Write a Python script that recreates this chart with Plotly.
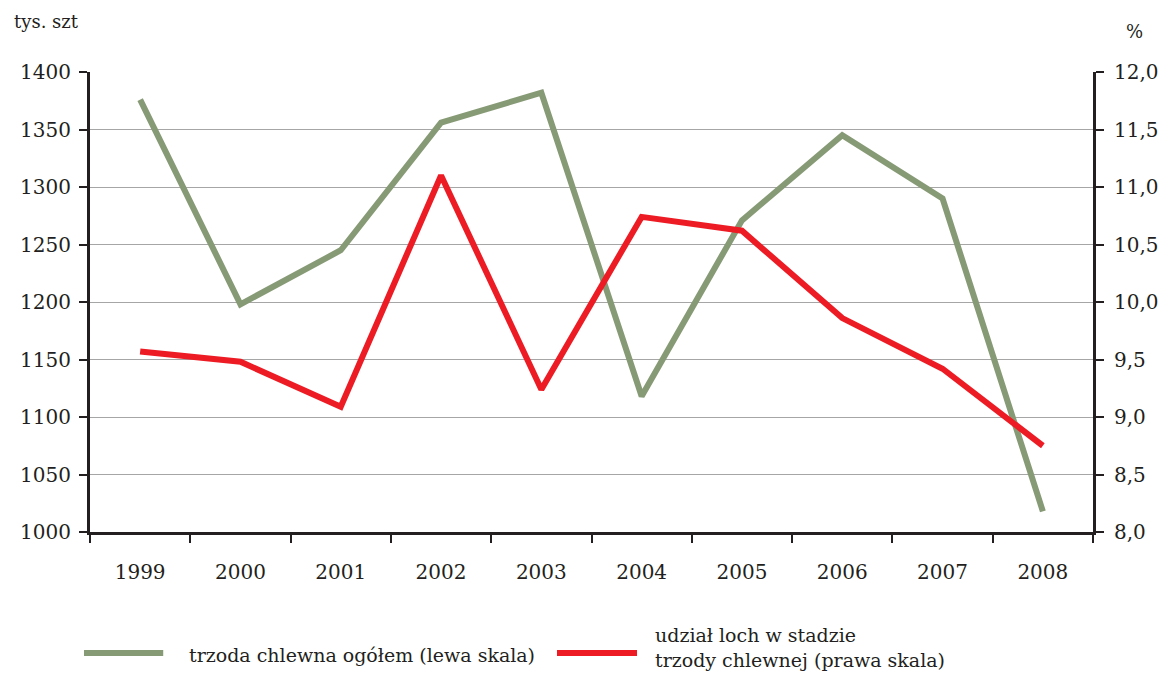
import plotly.graph_objects as go

years = ["1999", "2000", "2001", "2002", "2003", "2004", "2005", "2006", "2007", "2008"]
trzoda = [1376, 1198, 1245, 1356, 1382, 1118, 1271, 1345, 1290, 1018]
udzial = [9.57, 9.48, 9.09, 11.10, 9.24, 10.74, 10.62, 9.86, 9.42, 8.75]

name_green = "trzoda chlewna ogółem (lewa skala)"
name_red = "udział loch w stadzie<br>trzody chlewnej (prawa skala)"
left_ticks = [1000, 1050, 1100, 1150, 1200, 1250, 1300, 1350, 1400]
right_ticks = [8.0, 8.5, 9.0, 9.5, 10.0, 10.5, 11.0, 11.5, 12.0]
right_labels = ["8,0", "8,5", "9,0", "9,5", "10,0", "10,5", "11,0", "11,5", "12,0"]

GREEN = "#879a76"
RED = "#ed1c24"
INK = "#231f20"
FONT = "DejaVu Serif"

fig = go.Figure()
fig.add_trace(go.Scatter(x=years, y=trzoda, mode="lines", name=name_green,
                         line=dict(color=GREEN, width=6), yaxis="y", showlegend=False))
fig.add_trace(go.Scatter(x=years, y=udzial, mode="lines", name=name_red,
                         line=dict(color=RED, width=6), yaxis="y2", showlegend=False))

axis_common = dict(showline=True, linecolor=INK, linewidth=3, ticks="outside",
                   ticklen=8, tickwidth=1.5, tickcolor=INK, automargin=False,
                   tickfont=dict(family=FONT, size=20, color=INK), zeroline=False)
inner = dict(showline=False, ticks="inside", ticklen=8, tickwidth=1.5, tickcolor=INK,
             showticklabels=False, showgrid=False, zeroline=False, automargin=False)

n = len(years)
bounds = [i - 0.5 for i in range(n + 1)]

fig.update_layout(
    width=1164, height=673,
    margin=dict(l=90, r=71, t=72, b=141, autoexpand=False),
    paper_bgcolor="white", plot_bgcolor="white",
    font=dict(family=FONT, color=INK),
    xaxis=dict(type="category", range=[-0.5, n - 0.5], tickson="boundaries",
               showgrid=False, ticklabelstandoff=20, **axis_common),
    yaxis=dict(range=[1000, 1400], tickvals=left_ticks, showgrid=True,
               gridcolor="#a6a6a6", gridwidth=1.2, ticklabelstandoff=4, **axis_common),
    yaxis2=dict(range=[8, 12], tickvals=right_ticks, ticktext=right_labels,
                overlaying="y", side="right", showgrid=False, ticklabelstandoff=6,
                **axis_common),
    xaxis2=dict(range=[-0.5, n - 0.5], tickvals=bounds, overlaying="x", side="bottom",
                anchor="y", **inner),
    yaxis3=dict(range=[1000, 1400], tickvals=left_ticks, overlaying="y", side="left",
                anchor="x", **inner),
    yaxis4=dict(range=[8, 12], tickvals=right_ticks, overlaying="y", side="right",
                anchor="x", **inner),
)

# legend drawn manually
fig.add_shape(type="line", xref="paper", yref="paper", x0=-0.006, x1=0.073,
              y0=-0.263, y1=-0.263, line=dict(color=GREEN, width=6))
fig.add_shape(type="line", xref="paper", yref="paper", x0=0.4656, x1=0.5454,
              y0=-0.263, y1=-0.263, line=dict(color=RED, width=6))
fig.add_annotation(xref="paper", yref="paper", x=0.0967, y=-0.267, text=name_green,
                   showarrow=False, xanchor="left", yanchor="middle",
                   font=dict(family=FONT, size=19, color=INK))
fig.add_annotation(xref="paper", yref="paper", x=0.5613, y=-0.250, text=name_red,
                   showarrow=False, xanchor="left", yanchor="middle", align="left",
                   font=dict(family=FONT, size=19, color=INK))

fig.add_annotation(xref="paper", yref="paper", x=-0.0778, y=1.109, text="tys. szt",
                   showarrow=False, xanchor="left", yanchor="middle",
                   font=dict(family=FONT, size=18, color=INK))
fig.add_annotation(xref="paper", yref="paper", x=1.031, y=1.087, text="%",
                   showarrow=False, xanchor="left", yanchor="middle",
                   font=dict(family=FONT, size=18, color=INK))

fig.write_html("out.html", config={"displayModeBar": False},
               post_script="document.body.style.margin='0';")
